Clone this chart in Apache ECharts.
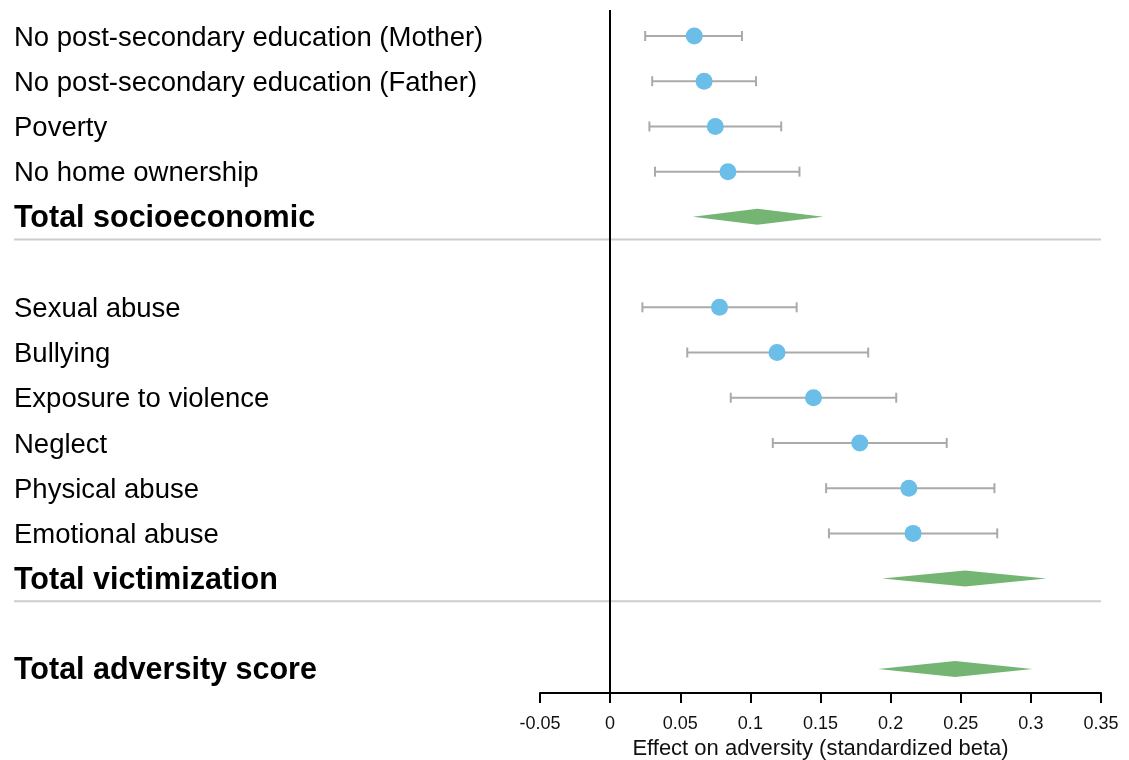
<!DOCTYPE html>
<html>
<head>
<meta charset="utf-8">
<script src="https://cdn.jsdelivr.net/npm/echarts@6/dist/echarts.min.js"></script>
<style>
    html, body { margin: 0; padding: 0; background: #fff; }
    #chart { width: 1129px; height: 760px; }
</style>
</head>
<body>
<div id="chart"></div>
<script>
// row order top to bottom, '' = empty spacer row
const rowOrder = [
    'No post-secondary education (Mother)',
    'No post-secondary education (Father)',
    'Poverty',
    'No home ownership',
    'Total socioeconomic',
    '',
    'Sexual abuse',
    'Bullying',
    'Exposure to violence',
    'Neglect',
    'Physical abuse',
    'Emotional abuse',
    'Total victimization',
    '',
    'Total adversity score'
]

const itemNames = [
    'No post-secondary education (Mother)',
    'No post-secondary education (Father)',
    'Poverty',
    'No home ownership',
    'Sexual abuse',
    'Bullying',
    'Exposure to violence',
    'Neglect',
    'Physical abuse',
    'Emotional abuse'
]
const itemEstimate = [0.060, 0.067, 0.075, 0.084, 0.078, 0.119, 0.145, 0.178, 0.213, 0.216]
const itemLower = [0.025, 0.030, 0.028, 0.032, 0.023, 0.055, 0.086, 0.116, 0.154, 0.156]
const itemUpper = [0.094, 0.104, 0.122, 0.135, 0.133, 0.184, 0.204, 0.240, 0.274, 0.276]

const totalNames = ['Total socioeconomic', 'Total victimization', 'Total adversity score']
const totalEstimate = [0.105, 0.253, 0.246]
const totalLower = [0.059, 0.194, 0.191]
const totalUpper = [0.152, 0.311, 0.301]

// section separators drawn below these rows
const separatorAfter = ['Total socioeconomic', 'Total victimization']

const xTicks = { min: -0.05, max: 0.35, step: 0.05 }

const FONT = '"Liberation Sans", Arial, Helvetica, sans-serif'
const rowOf = name => rowOrder.indexOf(name)

const labelRows = rowOrder.map((n, i) => ({ name: n, row: i })).filter(d => d.name !== '')

let chart = echarts.init(document.getElementById('chart'))
let option = {
    animation: false,
    grid: { left: 540, right: 28, top: 10, bottom: 67, outerBoundsMode: 'none' },
    xAxis: {
        type: 'value',
        position: 'bottom',
        min: xTicks.min,
        max: xTicks.max,
        interval: xTicks.step,
        name: 'Effect on adversity (standardized beta)',
        nameLocation: 'middle',
        nameGap: 44,
        nameTextStyle: { color: '#111', fontSize: 22, fontFamily: FONT },
        axisLine: { onZero: false, lineStyle: { color: '#000', width: 2 } },
        axisTick: { length: 10, lineStyle: { color: '#000', width: 2 } },
        axisLabel: {
            color: '#111',
            fontSize: 18,
            fontFamily: FONT,
            margin: 22,
            showMinLabel: true,
            showMaxLabel: true,
            formatter: v => String(+v.toFixed(2))
        },
        splitLine: { show: false }
    },
    yAxis: {
        type: 'value',
        inverse: true,
        min: -0.575,
        max: 14.53,
        show: false
    },
    series: [
        {
            // row labels
            type: 'custom',
            silent: true,
            data: labelRows.map(d => [0, d.row]),
            renderItem: function (params, api) {
                let d = labelRows[params.dataIndex]
                let y = api.coord([0, api.value(1)])[1]
                let bold = totalNames.includes(d.name)
                return {
                    type: 'text',
                    x: 14,
                    y: y + 2,
                    style: {
                        text: d.name,
                        fill: '#000',
                        fontSize: bold ? 30.5 : 27.5,
                        fontWeight: bold ? 'bold' : 'normal',
                        fontFamily: FONT,
                        align: 'left',
                        verticalAlign: 'middle'
                    }
                }
            }
        },
        {
            // separator lines
            type: 'custom',
            silent: true,
            data: separatorAfter.map(n => [0, rowOf(n) + 0.5]),
            renderItem: function (params, api) {
                let p = api.coord([xTicks.max, api.value(1)])
                return {
                    type: 'line',
                    shape: { x1: 14, y1: p[1], x2: p[0], y2: p[1] },
                    style: { stroke: '#cdcdcd', lineWidth: 2 }
                }
            }
        },
        {
            // confidence intervals
            type: 'custom',
            silent: true,
            data: itemNames.map((n, i) => [itemLower[i], itemUpper[i], rowOf(n)]),
            renderItem: function (params, api) {
                let a = api.coord([api.value(0), api.value(2)])
                let b = api.coord([api.value(1), api.value(2)])
                let st = { stroke: '#aaaaaa', lineWidth: 2 }
                return {
                    type: 'group',
                    children: [
                        { type: 'line', shape: { x1: a[0], y1: a[1], x2: b[0], y2: b[1] }, style: st },
                        { type: 'line', shape: { x1: a[0], y1: a[1] - 5, x2: a[0], y2: a[1] + 5 }, style: st },
                        { type: 'line', shape: { x1: b[0], y1: b[1] - 5, x2: b[0], y2: b[1] + 5 }, style: st }
                    ]
                }
            }
        },
        {
            // point estimates
            type: 'scatter',
            symbol: 'circle',
            symbolSize: 17,
            itemStyle: { color: '#6bbee8', opacity: 1 },
            data: itemNames.map((n, i) => [itemEstimate[i], rowOf(n)]),
            markLine: {
                silent: true,
                symbol: 'none',
                label: { show: false },
                lineStyle: { color: '#000', width: 2, type: 'solid' },
                data: [{ xAxis: 0 }]
            }
        },
        {
            // pooled diamonds
            type: 'custom',
            silent: true,
            data: totalNames.map((n, i) => [totalLower[i], totalEstimate[i], totalUpper[i], rowOf(n)]),
            renderItem: function (params, api) {
                let row = api.value(3)
                let lo = api.coord([api.value(0), row])
                let mid = api.coord([api.value(1), row])
                let hi = api.coord([api.value(2), row])
                return {
                    type: 'polygon',
                    shape: { points: [[lo[0], lo[1]], [mid[0], mid[1] - 8], [hi[0], hi[1]], [mid[0], mid[1] + 8]] },
                    style: { fill: '#74b574' }
                }
            }
        }
    ]
}
chart.setOption(option)
</script>
</body>
</html>
